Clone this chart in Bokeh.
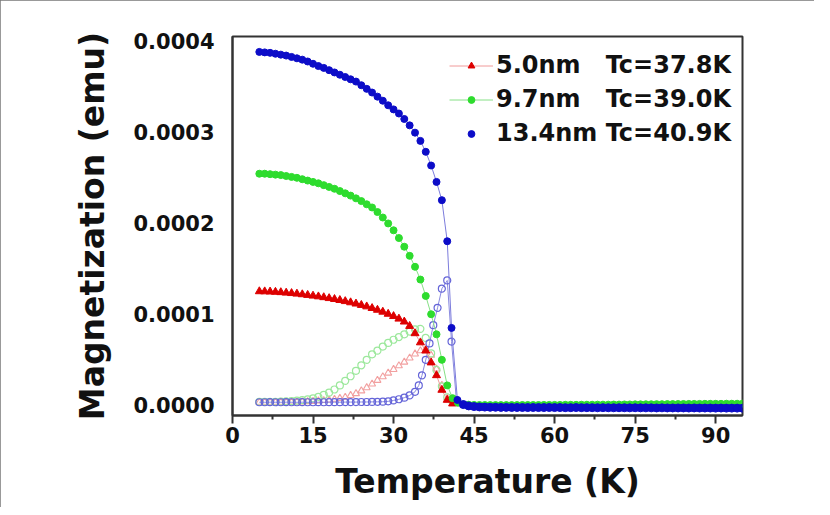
from bokeh.plotting import figure
from bokeh.models import Range1d, FixedTicker, PrintfTickFormatter, Legend, LegendItem
from bokeh.embed import file_html
from bokeh.resources import INLINE

# ---------------- data (magnetization in units of 1e-4 emu) ----------------
UNIT = 1e-4

X_TICKS = [0, 15, 30, 45, 60, 75, 90]
X_MINOR = [7.5, 22.5, 37.5, 52.5, 67.5, 82.5]
Y_TICKS = [0.0, 0.0001, 0.0002, 0.0003, 0.0004]

LABEL_5 = "5.0nm\u00a0\u00a0\u00a0Tc=37.8K"
LABEL_9 = "9.7nm\u00a0\u00a0\u00a0Tc=39.0K"
LABEL_13 = "13.4nm\u00a0Tc=40.9K"

# 5.0 nm  (field cooled, filled triangles)
T_red = [5, 6, 7, 8, 9, 10, 11, 12, 13, 14, 15, 16, 17, 18, 19, 20, 21, 22, 23, 24,
         25, 26, 27, 28, 29, 30, 31, 32, 33, 34, 35, 36, 37, 38, 39, 40, 41]
M_red_fc = [1.250, 1.249, 1.247, 1.244, 1.240, 1.235, 1.230, 1.224, 1.217, 1.210,
            1.202, 1.194, 1.185, 1.175, 1.165, 1.154, 1.142, 1.129, 1.115, 1.100,
            1.084, 1.066, 1.047, 1.026, 1.003, 0.978, 0.950, 0.918, 0.870, 0.790,
            0.690, 0.600, 0.470, 0.330, 0.170, 0.060, 0.020]
# 5.0 nm  (zero field cooled, open triangles)
M_red_zfc = [0.035, 0.035, 0.035, 0.035, 0.036, 0.036, 0.037, 0.038, 0.040, 0.042,
             0.045, 0.050, 0.055, 0.060, 0.068, 0.078, 0.090, 0.110, 0.130, 0.160,
             0.195, 0.235, 0.275, 0.315, 0.355, 0.395, 0.435, 0.475, 0.520, 0.565,
             0.600, 0.620, 0.550, 0.400, 0.220, 0.080, 0.030]

# 9.7 nm
T_green = [5, 6, 7, 8, 9, 10, 11, 12, 13, 14, 15, 16, 17, 18, 19, 20, 21, 22, 23, 24,
           25, 26, 27, 28, 29, 30, 31, 32, 33, 34, 35, 36, 37, 38, 39, 40, 41, 42]
M_green_fc = [2.540, 2.540, 2.535, 2.530, 2.525, 2.515, 2.505, 2.495, 2.480, 2.465,
              2.450, 2.435, 2.415, 2.395, 2.375, 2.350, 2.325, 2.300, 2.270, 2.240,
              2.205, 2.170, 2.120, 2.060, 1.995, 1.920, 1.835, 1.740, 1.640, 1.520,
              1.380, 1.200, 1.000, 0.780, 0.500, 0.220, 0.080, 0.030]
T_green_zfc = [5, 6, 7, 8, 9, 10, 11, 12, 13, 14, 15, 16, 17, 18, 19, 20, 21, 22, 23, 24,
               25, 26, 27, 28, 29, 30, 31, 32, 33, 34, 35, 36, 37, 38, 39, 40, 41]
M_green_zfc = [0.040, 0.040, 0.040, 0.040, 0.042, 0.045, 0.048, 0.052, 0.058, 0.066,
               0.078, 0.095, 0.115, 0.140, 0.175, 0.220, 0.270, 0.320, 0.380, 0.440,
               0.500, 0.560, 0.600, 0.645, 0.685, 0.720, 0.750, 0.780, 0.810, 0.835,
               0.840, 0.740, 0.570, 0.390, 0.210, 0.090, 0.040]

# 13.4 nm
T_blue = [5, 6, 7, 8, 9, 10, 11, 12, 13, 14, 15, 16, 17, 18, 19, 20, 21, 22, 23, 24,
          25, 26, 27, 28, 29, 30, 31, 32, 33, 34, 35, 36, 37, 38, 39, 40.0, 40.8, 41.9]
M_blue_fc = [3.875, 3.870, 3.865, 3.855, 3.845, 3.835, 3.820, 3.805, 3.790, 3.770,
             3.745, 3.720, 3.700, 3.675, 3.650, 3.625, 3.600, 3.575, 3.550, 3.510,
             3.470, 3.430, 3.385, 3.340, 3.290, 3.245, 3.200, 3.140, 3.070, 2.990,
             2.900, 2.780, 2.630, 2.450, 2.250, 1.800, 0.850, 0.060]
T_blue_zfc = [5, 6, 7, 8, 9, 10, 11, 12, 13, 14, 15, 16, 17, 18, 19, 20, 21, 22, 23, 24,
              25, 26, 27, 28, 29, 30, 31, 32, 33, 34, 34.7, 35.3, 36.0, 36.7, 37.4,
              38.2, 39.0, 40.0, 40.8, 41.7]
M_blue_zfc = [0.035, 0.035, 0.036, 0.035, 0.035, 0.036, 0.035, 0.035, 0.036, 0.035,
              0.035, 0.036, 0.035, 0.036, 0.036, 0.036, 0.037, 0.037, 0.037, 0.038,
              0.038, 0.039, 0.040, 0.041, 0.045, 0.055, 0.068, 0.085, 0.110, 0.150,
              0.220, 0.330, 0.500, 0.680, 0.880, 1.070, 1.280, 1.370, 0.700, 0.060]

# high temperature (paramagnetic) region, all samples
T_high = [43, 44, 45, 46, 47, 48, 49, 50, 51, 52, 53, 54, 55, 56, 57, 58, 59, 60, 61, 62,
          63, 64, 65, 66, 67, 68, 69, 70, 71, 72, 73, 74, 75, 76, 77, 78, 79, 80, 81, 82,
          83, 84, 85, 86, 87, 88, 89, 90, 91, 92, 93, 94, 95]
M_blue_high = [0.010, -0.005, -0.012, -0.016, -0.018, -0.020, -0.020, -0.021, -0.021, -0.022,
               -0.022, -0.022, -0.023, -0.022, -0.023, -0.023, -0.022, -0.023, -0.023, -0.024,
               -0.024, -0.023, -0.024, -0.024, -0.024, -0.025, -0.024, -0.025, -0.025, -0.025,
               -0.025, -0.026, -0.025, -0.026, -0.026, -0.026, -0.027, -0.026, -0.027, -0.027,
               -0.027, -0.027, -0.028, -0.027, -0.028, -0.028, -0.028, -0.029, -0.028, -0.029,
               -0.029, -0.029, -0.030]
M_green_high = [0.010, 0.008, 0.006, 0.005, 0.005, 0.004, 0.004, 0.004, 0.004, 0.004,
                0.004, 0.005, 0.005, 0.005, 0.005, 0.006, 0.006, 0.006, 0.006, 0.007,
                0.007, 0.007, 0.008, 0.008, 0.008, 0.009, 0.009, 0.009, 0.010, 0.010,
                0.011, 0.011, 0.012, 0.012, 0.013, 0.013, 0.014, 0.014, 0.015, 0.015,
                0.016, 0.016, 0.017, 0.017, 0.017, 0.018, 0.018, 0.018, 0.018, 0.019,
                0.019, 0.019, 0.020]


def emu(vals):
    return [v * UNIT for v in vals]


# ---------------- colours ----------------
RED = "#dd0000"
GREEN = "#2edc2e"
BLUE = "#0c0cc8"
RED_OPEN = "#f2a0a0"
GREEN_OPEN = "#9ce89c"
BLUE_OPEN = "#6464d8"
FONT = "DejaVu Sans"

p = figure(width=814, height=507, output_backend="svg", toolbar_location=None,
           x_range=Range1d(0, 95), y_range=Range1d(-0.000011, 0.0004044),
           min_border_left=232, min_border_right=72, min_border_top=36,
           min_border_bottom=92)
p.styles = {"outline": "2px solid #777777", "outline-offset": "-2px"}
p.grid.visible = False
p.outline_line_color = "#333333"
p.outline_line_width = 2
p.background_fill_color = "white"
p.border_fill_color = "white"

# zero-field-cooled curves (open symbols)
p.scatter(T_red, emu(M_red_zfc), marker="triangle", size=7, fill_color=None,
          line_color=RED_OPEN, line_width=1.1)
p.scatter(T_green_zfc, emu(M_green_zfc), marker="circle", size=7, fill_color=None,
          line_color=GREEN_OPEN, line_width=1.2)
p.line(T_blue_zfc, emu(M_blue_zfc), line_color="#8a8ae0", line_width=1)
p.scatter(T_blue_zfc, emu(M_blue_zfc), marker="circle", size=7, fill_color=None,
          line_color=BLUE_OPEN, line_width=1.2)

# field-cooled curves (filled symbols)
red_line = p.line(T_red, emu(M_red_fc), line_color="#f09a9a", line_width=1)
red_pts = p.scatter(T_red, emu(M_red_fc), marker="triangle", size=8,
                    fill_color=RED, line_color=RED)
green_line = p.line(T_green, emu(M_green_fc), line_color="#86e086", line_width=1)
green_pts = p.scatter(T_green, emu(M_green_fc), marker="circle", size=7,
                      fill_color=GREEN, line_color=GREEN)
p.scatter(T_high, emu(M_green_high), marker="circle", size=7,
          fill_color=GREEN, line_color=GREEN)
p.line(T_blue, emu(M_blue_fc), line_color="#7c7cdc", line_width=1)
blue_pts = p.scatter(T_blue, emu(M_blue_fc), marker="circle", size=7,
                     fill_color=BLUE, line_color=BLUE)
p.scatter(T_high, emu(M_blue_high), marker="circle", size=8,
          fill_color=BLUE, line_color=BLUE)

# ---------------- axes ----------------
xa = p.xaxis[0]
xa.ticker = FixedTicker(ticks=X_TICKS, minor_ticks=X_MINOR)
xa.axis_label = "Temperature (K)"
xa.major_tick_out = 8
xa.major_tick_in = 0
xa.minor_tick_out = 4
xa.minor_tick_in = 0
xa.major_label_standoff = 3
xa.axis_label_standoff = 16

ya = p.yaxis[0]
ya.ticker = FixedTicker(ticks=Y_TICKS, minor_ticks=[])
ya.formatter = PrintfTickFormatter(format="%.4f")
ya.axis_label = "Magnetization (emu)"
ya.major_tick_out = 0
ya.major_tick_in = 0
ya.minor_tick_out = 0
ya.minor_tick_in = 0
ya.major_label_standoff = 18
ya.axis_label_standoff = 18

for ax in (xa, ya):
    ax.axis_line_color = "#333333"
    ax.axis_line_width = 2
    ax.major_tick_line_color = "#333333"
    ax.major_tick_line_width = 2
    ax.minor_tick_line_color = "#333333"
    ax.minor_tick_line_width = 2
    ax.major_label_text_font = FONT
    ax.major_label_text_font_style = "bold"
    ax.major_label_text_font_size = "21px"
    ax.major_label_text_color = "#111111"
    ax.axis_label_text_font = FONT
    ax.axis_label_text_font_style = "bold"
    ax.axis_label_text_font_size = "33px"
    ax.axis_label_text_color = "#111111"

# ---------------- legend ----------------
legend = Legend(items=[
    LegendItem(label=LABEL_5, renderers=[red_line, red_pts]),
    LegendItem(label=LABEL_9, renderers=[green_line, green_pts]),
    LegendItem(label=LABEL_13, renderers=[blue_pts]),
], location=(217, 265))
legend.border_line_color = None
legend.background_fill_alpha = 0
legend.padding = 0
legend.margin = 0
legend.spacing = 0
legend.glyph_width = 44
legend.glyph_height = 17
legend.label_height = 34
legend.label_standoff = 3
legend.label_text_font = FONT
legend.label_text_font_style = "bold"
legend.label_text_font_size = "24px"
legend.label_text_color = "#111111"
p.add_layout(legend)

open("out.html", "w").write(file_html(p, INLINE))
